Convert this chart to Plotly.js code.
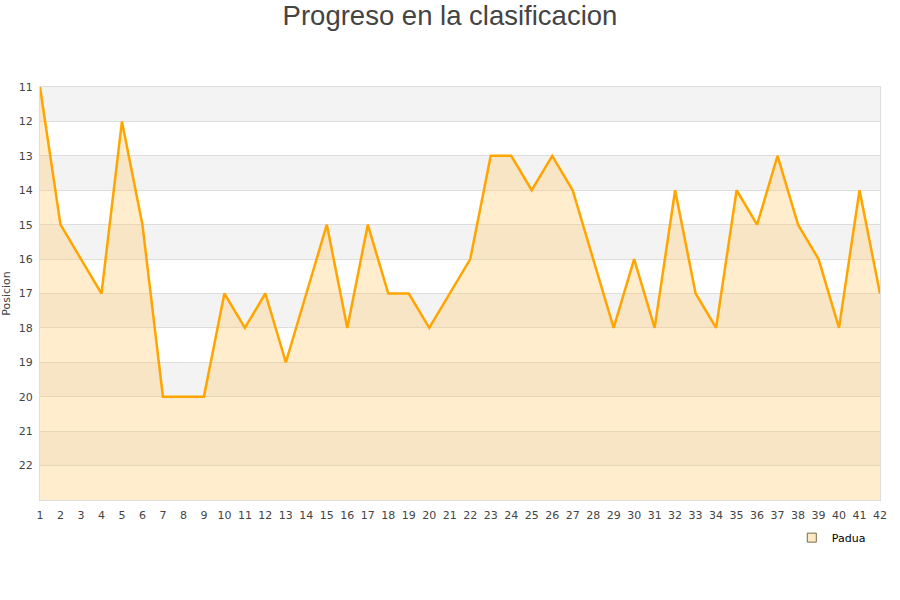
<!DOCTYPE html>
<html>
<head>
<meta charset="utf-8">
<script src="https://cdn.plot.ly/plotly-3.0.1.min.js"></script>
<style>html,body{margin:0;padding:0;background:#fff}#chart{width:900px;height:600px}</style>
</head>
<body>
<div id="chart"></div>
<script>
const jornadas = [1,2,3,4,5,6,7,8,9,10,11,12,13,14,15,16,17,18,19,20,21,22,23,24,25,26,27,28,29,30,31,32,33,34,35,36,37,38,39,40,41,42];
const posicionPadua = [11,15,16,17,12,15,20,20,20,17,18,17,19,17,15,18,15,17,17,18,17,16,13,13,14,13,14,16,18,16,18,14,17,18,14,15,13,15,16,18,14,17];
const yTicks = [11,12,13,14,15,16,17,18,19,20,21,22];
const fondo = 23;
const seriesName = 'Padua';

const baseline = jornadas.map(() => fondo);

const shapes = [];
yTicks.forEach((t, i) => {
  if (i % 2 === 0) {
    shapes.push({type:'rect', xref:'paper', yref:'y', x0:0, x1:1, y0:t, y1:t+1,
      fillcolor:'#f3f3f3', line:{width:0}, layer:'below'});
  }
});

const traces = [
  {x: jornadas, y: baseline, mode:'lines', line:{width:0, color:'rgba(0,0,0,0)'},
   showlegend:false, hoverinfo:'skip'},
  {x: jornadas, y: posicionPadua, mode:'lines', name: seriesName,
   fill:'tonexty', fillcolor:'rgba(255,200,100,0.32)',
   line:{color:'#ffa500', width:2.5}, showlegend:false},
  {x:[null], y:[null], mode:'markers', name: seriesName,
   marker:{symbol:'square', size:9, color:'#fde9c4', line:{color:'#7a6a4a', width:1}}}
];

const layout = {
  width:900, height:600,
  paper_bgcolor:'#ffffff', plot_bgcolor:'#ffffff',
  margin:{l:40, r:20, t:87, b:100},
  font:{family:'DejaVu Sans, sans-serif', size:11, color:'#444'},
  title:{text:'Progreso en la clasificacion', x:0.5, xanchor:'center', y:0.975, yanchor:'middle',
    font:{family:'Liberation Sans, Arial, sans-serif', size:27.5, color:'#444'}},
  xaxis:{range:[1,42], tickmode:'array', tickvals:jornadas, ticktext:jornadas.map(String),
    showgrid:false, zeroline:false, showline:true, linecolor:'#dddddd', linewidth:1,
    mirror:true, ticks:'', ticklabelstandoff:5, tickfont:{size:11, color:'#444'}, fixedrange:true},
  yaxis:{range:[23,11], tickmode:'array', tickvals:yTicks, ticktext:yTicks.map(String),
    showgrid:true, gridcolor:'#dddddd', gridwidth:1, zeroline:false,
    showline:true, linecolor:'#dddddd', linewidth:1, mirror:true, ticks:'',
    ticklabelstandoff:4,
    title:{text:'Posicion', font:{size:11, color:'#444'}, standoff:5},
    tickfont:{size:11, color:'#444'}, fixedrange:true},
  shapes: shapes,
  showlegend:true,
  legend:{x:0.895, y:-0.056, xanchor:'left', yanchor:'top', bgcolor:'rgba(0,0,0,0)',
    font:{size:11, color:'#000'}, itemwidth:30}
};

Plotly.newPlot('chart', traces, layout, {displayModeBar:false, staticPlot:true});
</script>
</body>
</html>
